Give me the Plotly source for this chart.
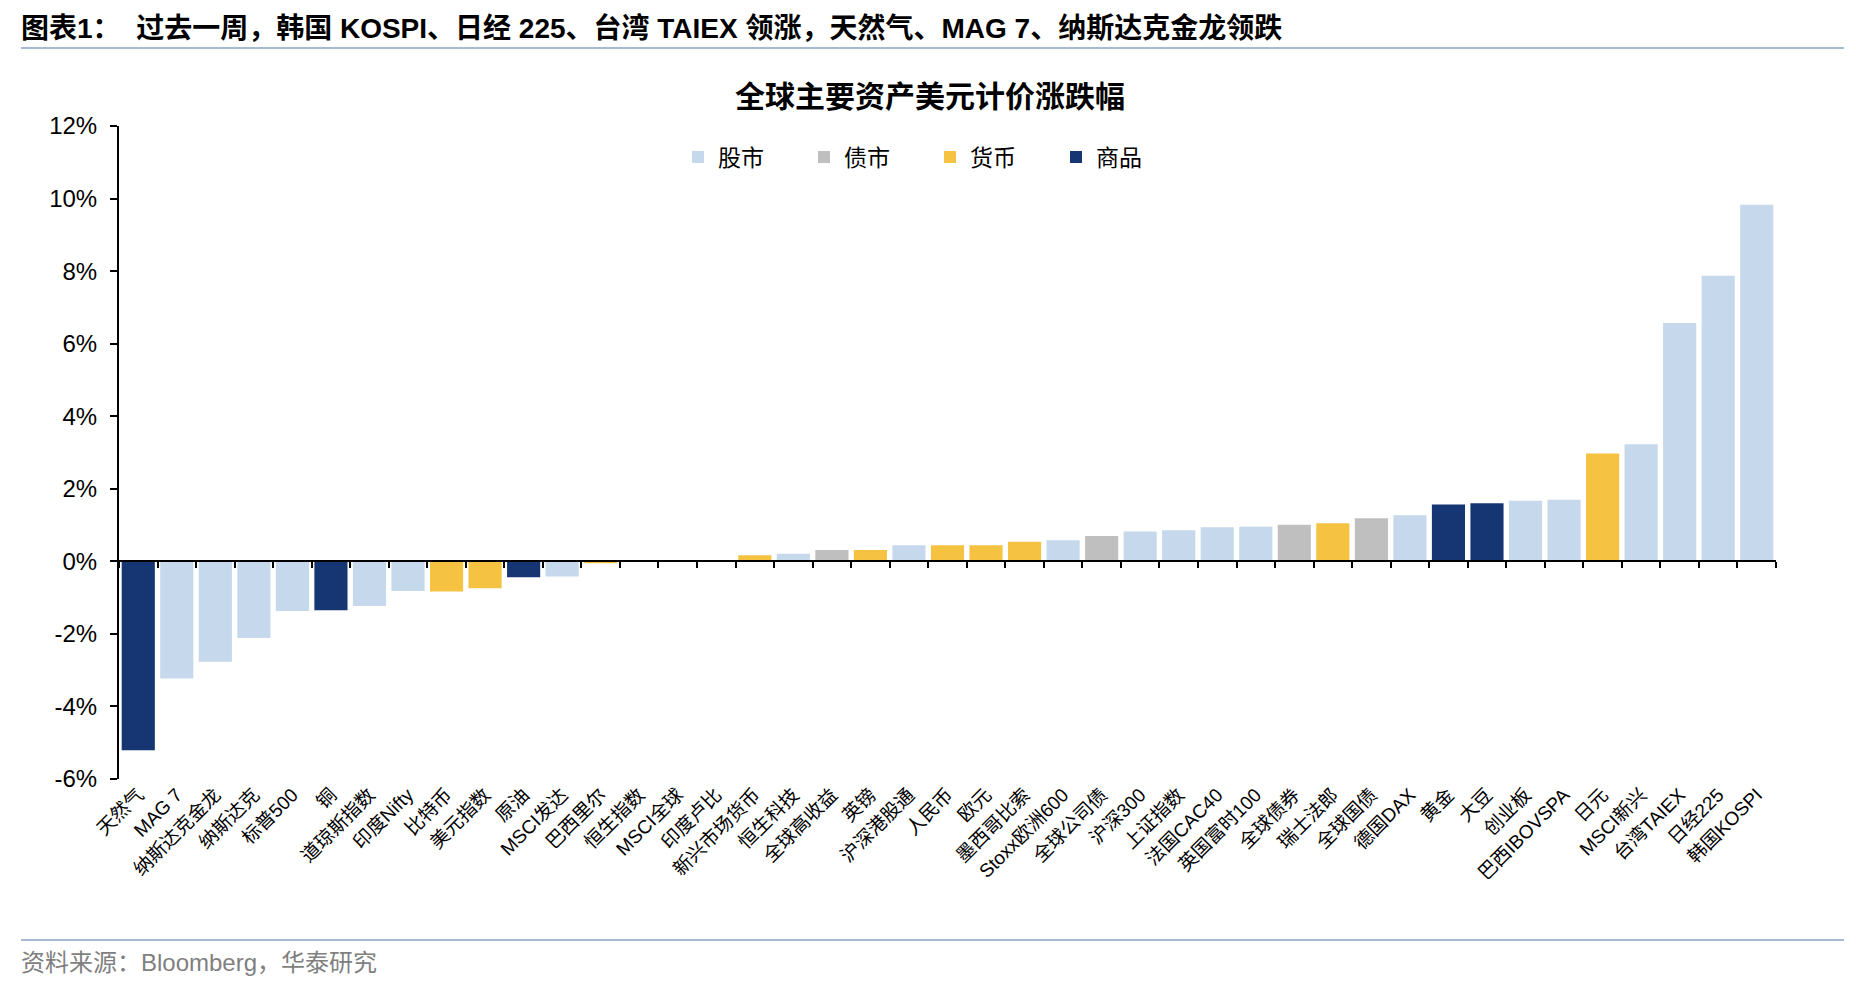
import plotly.graph_objects as go

# data (weekly % change, USD terms)
names = ["天然气", "MAG 7", "纳斯达克金龙", "纳斯达克", "标普500", "铜", "道琼斯指数", "印度Nifty",
         "比特币", "美元指数", "原油", "MSCI发达", "巴西里尔", "恒生指数", "MSCI全球", "印度卢比",
         "新兴市场货币", "恒生科技", "全球高收益", "英镑", "沪深港股通", "人民币", "欧元", "墨西哥比索",
         "Stoxx欧洲600", "全球公司债", "沪深300", "上证指数", "法国CAC40", "英国富时100", "全球债券",
         "瑞士法郎", "全球国债", "德国DAX", "黄金", "大豆", "创业板", "巴西IBOVSPA", "日元", "MSCI新兴",
         "台湾TAIEX", "日经225", "韩国KOSPI"]
values = [-5.21, -3.23, -2.77, -2.11, -1.37, -1.35, -1.23, -0.82,
          -0.83, -0.74, -0.44, -0.42, -0.05, -0.01, 0.0, 0.01,
          0.17, 0.21, 0.31, 0.31, 0.44, 0.44, 0.44, 0.54,
          0.58, 0.70, 0.82, 0.86, 0.94, 0.95, 1.01,
          1.05, 1.19, 1.27, 1.57, 1.60, 1.67, 1.70, 2.97, 3.23,
          6.57, 7.87, 9.83]
groups = ["商品", "股市", "股市", "股市", "股市", "商品", "股市", "股市",
          "货币", "货币", "商品", "股市", "货币", "股市", "股市", "货币",
          "货币", "股市", "债市", "货币", "股市", "货币", "货币", "货币",
          "股市", "债市", "股市", "股市", "股市", "股市", "债市",
          "货币", "债市", "股市", "商品", "商品", "股市", "股市", "货币", "股市",
          "股市", "股市", "股市"]
legend_order = ["股市", "债市", "货币", "商品"]
colors = {"股市": "#C5D8EC", "债市": "#BFBFBF", "货币": "#F5C242", "商品": "#153673"}
y_ticks = [-6, -4, -2, 0, 2, 4, 6, 8, 10, 12]
y_ticktext = ["-6%", "-4%", "-2%", "0%", "2%", "4%", "6%", "8%", "10%", "12%"]

W, H = 1856, 986
L, R, T, B = 111, 88, 118, 215
pw, ph = W - L - R, H - T - B


def px(x):
    return (x - L) / pw


def py_(y):
    return (H - B - y) / ph


font_lat = "Liberation Sans, Arial, Noto Sans CJK SC"

fig = go.Figure()
for g in legend_order:
    xs = [n for n, gg in zip(names, groups) if gg == g]
    ys = [v for v, gg in zip(values, groups) if gg == g]
    fig.add_trace(go.Bar(x=xs, y=ys, name=g, marker=dict(color=colors[g], line=dict(width=0))))

# invisible trace so the zero-line axis with boundary ticks is drawn
fig.add_trace(go.Scatter(x=names, y=[0] * len(names), xaxis="x2", mode="lines",
                         line=dict(width=0), showlegend=False, hoverinfo="skip"))

fig.update_layout(
    width=W, height=H,
    margin=dict(l=L, r=R, t=T, b=B),
    paper_bgcolor="white", plot_bgcolor="white",
    barmode="relative", bargap=0.14,
    font=dict(family=font_lat, color="black"),
    xaxis=dict(categoryorder="array", categoryarray=names, tickangle=-45,
               showline=False, ticks="", showgrid=False,
               tickfont=dict(size=19, family=font_lat)),
    xaxis2=dict(overlaying="x", matches="x", anchor="free", position=1 / 3,
                categoryorder="array", categoryarray=names,
                showline=True, linecolor="black", linewidth=2,
                ticks="outside", tickson="boundaries", ticklen=6, tickwidth=2, tickcolor="black",
                showticklabels=False, showgrid=False),
    yaxis=dict(range=[-6, 12], tickmode="array", tickvals=y_ticks, ticktext=y_ticktext,
               showgrid=False, zeroline=False,
               showline=True, linecolor="black", linewidth=2,
               ticks="outside", ticklen=7, tickwidth=2, tickcolor="black",
               ticklabelstandoff=8,
               tickfont=dict(size=24, family=font_lat)),
    legend=dict(orientation="h", x=px(670), xanchor="left", y=py_(149), yanchor="middle",
                font=dict(size=23, family="Noto Sans CJK SC"), entrywidth=81,
                itemwidth=30, bgcolor="rgba(0,0,0,0)"),
    showlegend=True,
)

fig.add_annotation(text="<b>图表1：  过去一周，韩国 KOSPI、日经 225、台湾 TAIEX 领涨，天然气、MAG 7、纳斯达克金龙领跌</b>",
                   xref="paper", yref="paper", x=px(11), y=py_(20), xanchor="left", yanchor="middle",
                   showarrow=False, font=dict(size=28, family=font_lat, color="black"))
fig.add_annotation(text="<b>全球主要资产美元计价涨跌幅</b>",
                   xref="paper", yref="paper", x=px(922), y=py_(86), xanchor="center", yanchor="middle",
                   showarrow=False, font=dict(size=30, family="Noto Sans CJK SC", color="black"))
fig.add_annotation(text="资料来源：Bloomberg，华泰研究",
                   xref="paper", yref="paper", x=px(11), y=py_(954), xanchor="left", yanchor="middle",
                   showarrow=False, font=dict(size=24, family=font_lat, color="#7F7F7F"))

fig.add_shape(type="line", xref="paper", yref="paper", x0=px(13), x1=px(1836), y0=py_(40), y1=py_(40),
              line=dict(color="#A7BAD3", width=2))
fig.add_shape(type="line", xref="paper", yref="paper", x0=px(13), x1=px(1836), y0=py_(932), y1=py_(932),
              line=dict(color="#A7BAD3", width=2))

fig.write_html("out.html")
